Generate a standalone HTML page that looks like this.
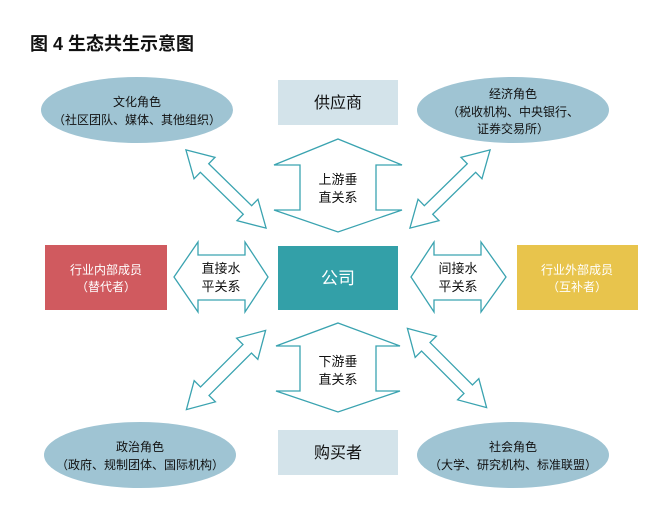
<!DOCTYPE html>
<html><head><meta charset="utf-8"><style>
html,body{margin:0;padding:0;background:#fff;}
svg{display:block;font-family:"Liberation Sans","Noto Sans CJK SC",sans-serif;}
</style></head><body>
<svg width="664" height="519" viewBox="0 0 664 519">
<text x="30" y="50" font-size="18" font-weight="bold" fill="#111">图 4  生态共生示意图</text>
<g fill="#9fc4d3">
<ellipse cx="137" cy="110" rx="96" ry="33"/>
<ellipse cx="513" cy="110" rx="96" ry="33"/>
<ellipse cx="140" cy="455" rx="96" ry="33"/>
<ellipse cx="513" cy="455" rx="96" ry="33"/>
</g>
<g font-size="12" fill="#111" text-anchor="middle">
<text x="137" y="106">文化角色</text><text x="137" y="124">（社区团队、媒体、其他组织）</text>
<text x="513" y="98">经济角色</text><text x="513" y="116">（税收机构、中央银行、</text><text x="513" y="133">证券交易所）</text>
<text x="140" y="451">政治角色</text><text x="140" y="469">（政府、规制团体、国际机构）</text>
<text x="513" y="451">社会角色</text><text x="513" y="469">（大学、研究机构、标准联盟）</text>
</g>
<rect x="278" y="80" width="120" height="45" fill="#d3e3ea"/>
<text x="338" y="108" font-size="16" text-anchor="middle" fill="#111">供应商</text>
<rect x="278" y="430" width="120" height="45" fill="#d3e3ea"/>
<text x="338" y="458" font-size="16" text-anchor="middle" fill="#111">购买者</text>
<rect x="278" y="246" width="120" height="64" fill="#33a0a8"/>
<text x="338" y="284" font-size="17" text-anchor="middle" fill="#fff">公司</text>
<rect x="45" y="245" width="122" height="65" fill="#d05a5f"/>
<text x="106" y="274" font-size="12" text-anchor="middle" fill="#fff">行业内部成员</text>
<text x="106" y="291" font-size="12" text-anchor="middle" fill="#fff">（替代者）</text>
<rect x="517" y="245" width="121" height="65" fill="#e8c44c"/>
<text x="577" y="274" font-size="12" text-anchor="middle" fill="#fff">行业外部成员</text>
<text x="577" y="291" font-size="12" text-anchor="middle" fill="#fff">（互补者）</text>
<g fill="#fff" stroke="#3aa3b0" stroke-width="1.3">
<polygon points="338,139 402,165 376,165 376,210 402,210 338,232 274,210 300,210 300,165 274,165"/>
<polygon points="338,323 400,346 376,346 376,391 400,391 338,412 276,391 300,391 300,346 276,346"/>
<polygon points="174,277 198,242 198,255 245,255 245,242 268,277 245,312 245,300 198,300 198,312"/>
<polygon points="411,277 434,242 434,255 481,255 481,242 506,277 481,312 481,300 434,300 434,312"/>
<g transform="translate(226,189) rotate(44.3)"><polygon points="-56,0 -30,-15 -30,-6 30,-6 30,-15 56,0 30,15 30,6 -30,6 -30,15"/></g>
<g transform="translate(450,189) rotate(135.7)"><polygon points="-56,0 -30,-15 -30,-6 30,-6 30,-15 56,0 30,15 30,6 -30,6 -30,15"/></g>
<g transform="translate(226,370) rotate(135)"><polygon points="-56,0 -30,-15 -30,-6 30,-6 30,-15 56,0 30,15 30,6 -30,6 -30,15"/></g>
<g transform="translate(447,368) rotate(45)"><polygon points="-56,0 -30,-15 -30,-6 30,-6 30,-15 56,0 30,15 30,6 -30,6 -30,15"/></g>
</g>
<g font-size="13" fill="#111" text-anchor="middle">
<text x="338" y="184">上游垂</text><text x="338" y="202">直关系</text>
<text x="338" y="366">下游垂</text><text x="338" y="384">直关系</text>
<text x="221" y="273">直接水</text><text x="221" y="291">平关系</text>
<text x="458" y="273">间接水</text><text x="458" y="291">平关系</text>
</g>
</svg>
</body></html>
